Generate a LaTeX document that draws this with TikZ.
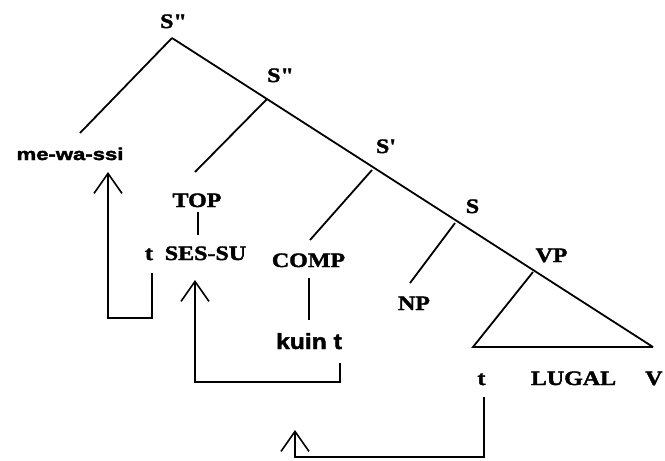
\documentclass[tikz,border=0pt]{standalone}
\usepackage{fontspec}
\setmainfont{Liberation Serif}[FakeStretch=1.17, Ligatures=TeXOff, BoldFeatures={FakeBold=1.8}]
\newfontfamily\mwfont{Liberation Sans}[FakeStretch=1.3, Ligatures=TeXOff, BoldFeatures={FakeBold=2.4}]
\newfontfamily\kufont{Liberation Sans}[FakeStretch=1.12, Ligatures=TeXOff, BoldFeatures={FakeBold=2}]
\usetikzlibrary{arrows.meta}
\begin{document}
\begin{tikzpicture}[x=1pt,y=-1pt,
  lab/.style={font=\fontsize{20.5}{20.5}\selectfont\bfseries, inner sep=0pt, anchor=base},
  br/.style={line width=1.8pt},
  mv/.style={line width=2pt, -{Straight Barb[length=20pt,width=28pt,line width=1.6pt]}},
]
\useasboundingbox (0,0) rectangle (665,461);
% labels
\node[lab] (s0) at (173.5,28) {S"};
\node[lab] (s1) at (280.5,82) {S"};
\node[lab] (s2) at (386,153) {S'};
\node[lab] (s3) at (472.5,213) {S};
\node[lab] (vp) at (551.5,262) {VP};
\node[lab, font=\fontsize{17}{17}\selectfont\mwfont\bfseries] (mw) at (70,160) {me-wa-ssi};
\node[lab] (top) at (197,207) {TOP};
\node[lab] (t1) at (149,260) {t};
\node[lab] (ses) at (205.5,260) {SES-SU};
\node[lab] (comp) at (308.5,267) {COMP};
\node[lab, font=\fontsize{22}{22}\selectfont\kufont\bfseries] (kuin) at (309,349) {kuin t};
\node[lab] (np) at (414,310) {NP};
\node[lab] (t3) at (481.5,385) {t};
\node[lab] (lugal) at (573.5,385) {LUGAL};
\node[lab, anchor=base west] (v) at (645,385) {V};
% tree
\coordinate (p0) at (172,38);
\coordinate (p1) at (267,99);
\coordinate (p2) at (372,170);
\coordinate (p3) at (455,223);
\coordinate (p4) at (533,272);
\coordinate (pr) at (653,347);
\coordinate (pl) at (473,347);
\coordinate (e0) at (80,133);
\coordinate (e1) at (195,172);
\coordinate (e2) at (310,240);
\coordinate (e3) at (410,283);
\draw[br] (p0) -- (pr);
\draw[br] (p0) -- (e0);
\draw[br] (p1) -- (e1);
\draw[br] (p2) -- (e2);
\draw[br] (p3) -- (e3);
\draw[br] (p4) -- (pl) -- (pr);
\coordinate (tt) at (198,212);
\coordinate (tb) at (198,235);
\draw[line width=1.4pt] (tt) -- (tb);
\coordinate (ct) at (309,278);
\coordinate (cb) at (309,320);
\draw[br] (ct) -- (cb);
% movement arrows
\coordinate (a1s) at (152,273);
\coordinate (a1t) at (108,172);
\draw[mv] (a1s) -- ++(0,45) -| (a1t);
\coordinate (a2s) at (340,363);
\coordinate (a2t) at (195,280);
\draw[mv] (a2s) -- ++(0,19) -| (a2t);
\coordinate (a3s) at (484,397);
\coordinate (a3t) at (295,430);
\draw[mv] (a3s) -- ++(0,60) -| (a3t);
\end{tikzpicture}
\end{document}
